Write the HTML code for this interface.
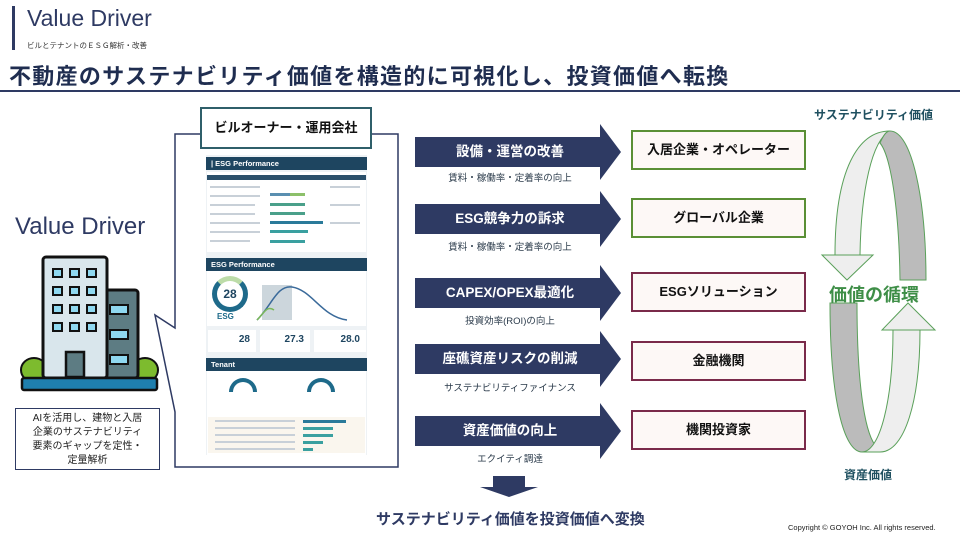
<!DOCTYPE html>
<html><head><meta charset="utf-8">
<style>
*{margin:0;padding:0;box-sizing:border-box}
body{width:960px;height:540px;position:relative;background:#fff;font-family:"Liberation Sans","Noto Sans CJK JP",sans-serif;overflow:hidden}
.a{position:absolute}
.arrow{position:absolute;left:415px;width:205px;height:56px}
.arrow .body{position:absolute;left:0;top:13px;width:186px;height:30px;background:#2e3a63;color:#fff;font-weight:bold;font-size:13.5px;text-align:center;line-height:30px;padding-left:4px}
.arrow .head{position:absolute;left:185px;top:0;width:0;height:0;border-top:28px solid transparent;border-bottom:28px solid transparent;border-left:21px solid #2e3a63}
.sub{position:absolute;left:415px;width:190px;text-align:center;font-size:9.5px;color:#2a3a4a}
.box{position:absolute;left:631px;width:175px;height:40px;background:#fdf8f6;border:2px solid #5a8f35;text-align:center;line-height:36px;font-weight:bold;font-size:13px;color:#111}
.box.m{border-color:#7a2a4a}
.hdr{position:absolute;left:206px;width:161px;height:13px;background:#1e4560;color:#fff;font-size:7.5px;font-weight:bold;line-height:13px;padding-left:5px}
.bar{position:absolute;height:3px}
.gl{position:absolute;height:2px;background:#c8d0d8}
</style></head><body>
<div class="a" style="left:12px;top:6px;width:3px;height:44px;background:#2e3a63"></div>
<div class="a" style="left:27px;top:5px;font-size:23px;color:#2e3a63">Value Driver</div>
<div class="a" style="left:27px;top:40px;font-size:7.5px;color:#333">ビルとテナントのＥＳＧ解析・改善</div>
<div class="a" style="left:9px;top:59px;font-size:22px;font-weight:bold;color:#1f2d50;letter-spacing:1.3px;white-space:nowrap">不動産のサステナビリティ価値を構造的に可視化し、投資価値へ転換</div>
<div class="a" style="left:0;top:90px;width:960px;height:2px;background:#2e3a63"></div>

<svg class="a" style="left:0;top:0" width="960" height="540">
<polyline points="200,134 175,134 175,328 155,315 175,412 175,467 398,467 398,134 372,134" fill="none" stroke="#2e3a63" stroke-width="1.5"/>
<path d="M835,255 C835,170 858,131 890,131 C872,140 861,190 860,255 Z" fill="#eeeeee" stroke="#5aa05a" stroke-width="1"/>
<polygon points="822,255 873,255 847,280" fill="#eeeeee" stroke="#5aa05a" stroke-width="1"/>
<path d="M890,131 C912,131 926,200 926,280 L900,280 C899,205 890,155 880,143 C883,136 886,131 890,131 Z" fill="#bbbbbb" stroke="#5aa05a" stroke-width="1"/>
<path d="M830,303 L857,303 C857,380 864,430 875,445 C870,452 866,452 862,452 C844,452 830,400 830,303 Z" fill="#bbbbbb" stroke="#5aa05a" stroke-width="1"/>
<path d="M862,452 C880,452 893,400 893,330 L920,330 C920,400 905,452 880,452 Z" fill="#eeeeee" stroke="#5aa05a" stroke-width="1"/>
<polygon points="882,330 935,330 908,303" fill="#eeeeee" stroke="#5aa05a" stroke-width="1"/>
<ellipse cx="34" cy="370" rx="13" ry="12" fill="#7dbb2e" stroke="#111" stroke-width="2"/>
<ellipse cx="145" cy="370" rx="13" ry="12" fill="#7dbb2e" stroke="#111" stroke-width="2"/>
<rect x="105" y="290" width="33" height="88" rx="3" fill="#5d7c83" stroke="#111" stroke-width="3"/>
<rect x="110" y="305" width="18" height="9" fill="#8fd8f0" stroke="#111" stroke-width="2"/>
<rect x="110" y="330" width="18" height="9" fill="#8fd8f0" stroke="#111" stroke-width="2"/>
<rect x="110" y="355" width="18" height="9" fill="#8fd8f0" stroke="#111" stroke-width="2"/>
<rect x="43" y="257" width="64" height="121" rx="3" fill="#d9e6ec" stroke="#111" stroke-width="3"/>
<g fill="#8fd8f0" stroke="#111" stroke-width="2">
<rect x="53" y="269" width="9" height="8"/><rect x="70" y="269" width="9" height="8"/><rect x="87" y="269" width="9" height="8"/>
<rect x="53" y="287" width="9" height="8"/><rect x="70" y="287" width="9" height="8"/><rect x="87" y="287" width="9" height="8"/>
<rect x="53" y="305" width="9" height="8"/><rect x="70" y="305" width="9" height="8"/><rect x="87" y="305" width="9" height="8"/>
<rect x="53" y="323" width="9" height="8"/><rect x="70" y="323" width="9" height="8"/><rect x="87" y="323" width="9" height="8"/>
</g>
<rect x="66" y="352" width="18" height="25" fill="#5d7c83" stroke="#111" stroke-width="2.5"/>
<rect x="22" y="378" width="135" height="12" rx="2" fill="#1f7fae" stroke="#111" stroke-width="2.5"/>
<polygon points="493,476 525,476 525,487 538,487 509,497 480,487 493,487" fill="#2e3a63"/>
</svg>

<div class="a" style="left:200px;top:107px;width:172px;height:42px;border:2px solid #2f5f6a;background:#fff;text-align:center;line-height:38px;font-weight:bold;font-size:13px;color:#111">ビルオーナー・運用会社</div>

<div class="a" style="left:206px;top:155px;width:161px;height:300px;background:#eef2f5"></div>
<div class="hdr" style="top:157px">| ESG Performance</div>
<div class="a" style="left:207px;top:172px;width:159px;height:80px;background:#fff"></div>
<div class="a" style="left:207px;top:175px;width:159px;height:5px;background:#2a4f6a"></div>
<div class="gl" style="left:210px;top:186px;width:50px"></div>
<div class="gl" style="left:210px;top:195px;width:50px"></div>
<div class="gl" style="left:210px;top:204px;width:45px"></div>
<div class="gl" style="left:210px;top:213px;width:45px"></div>
<div class="gl" style="left:210px;top:222px;width:50px"></div>
<div class="gl" style="left:210px;top:231px;width:50px"></div>
<div class="gl" style="left:210px;top:240px;width:40px"></div>
<div class="gl" style="left:330px;top:186px;width:30px"></div>
<div class="gl" style="left:330px;top:204px;width:30px"></div>
<div class="gl" style="left:330px;top:222px;width:30px"></div>
<div class="bar" style="left:270px;top:193px;width:20px;background:#5a8fb0"></div>
<div class="bar" style="left:290px;top:193px;width:15px;background:#8cc06a"></div>
<div class="bar" style="left:270px;top:203px;width:35px;background:#4aa08a"></div>
<div class="bar" style="left:270px;top:212px;width:35px;background:#4aa08a"></div>
<div class="bar" style="left:270px;top:221px;width:53px;background:#2a7a9a"></div>
<div class="bar" style="left:270px;top:230px;width:38px;background:#3aa0a0"></div>
<div class="bar" style="left:270px;top:240px;width:35px;background:#3aa0a0"></div>
<div class="hdr" style="top:258px">ESG Performance</div>
<div class="a" style="left:207px;top:271px;width:159px;height:55px;background:#fff"></div>
<div class="a" style="left:212px;top:276px;width:36px;height:36px;border-radius:50%;border:5px solid #1e6a8a;border-top-color:#bcdca8;text-align:center;line-height:26px;font-weight:bold;font-size:12px;color:#1e4560">28</div>
<div class="a" style="left:217px;top:312px;font-size:8px;font-weight:bold;color:#1e6a8a">ESG</div>
<svg class="a" style="left:252px;top:275px" width="112" height="50"><rect x="10" y="10" width="30" height="35" fill="#ccd6dc"/><path d="M5,45 C20,30 25,10 40,12 C60,15 70,42 95,45" fill="none" stroke="#3a6a9a" stroke-width="1.5"/><path d="M5,45 C12,38 15,30 22,35" fill="none" stroke="#7ab85a" stroke-width="1.5"/></svg>
<div class="a" style="left:208px;top:330px;width:48px;height:22px;background:#fff;font-size:10px;font-weight:bold;color:#1e4560;text-align:right;padding:4px 6px">28</div>
<div class="a" style="left:260px;top:330px;width:50px;height:22px;background:#fff;font-size:10px;font-weight:bold;color:#1e4560;text-align:right;padding:4px 6px">27.3</div>
<div class="a" style="left:314px;top:330px;width:52px;height:22px;background:#fff;font-size:10px;font-weight:bold;color:#1e4560;text-align:right;padding:4px 6px">28.0</div>
<div class="hdr" style="top:358px">Tenant</div>
<div class="a" style="left:207px;top:371px;width:159px;height:84px;background:#fff"></div>
<div class="a" style="left:229px;top:378px;width:28px;height:14px;border-radius:14px 14px 0 0;border:4px solid #1e6a8a;border-bottom:none"></div>
<div class="a" style="left:307px;top:378px;width:28px;height:14px;border-radius:14px 14px 0 0;border:4px solid #1e6a8a;border-bottom:none"></div>
<div class="a" style="left:208px;top:417px;width:157px;height:36px;background:#faf6ee"></div>
<div class="gl" style="left:215px;top:420px;width:80px"></div>
<div class="gl" style="left:215px;top:427px;width:80px"></div>
<div class="gl" style="left:215px;top:434px;width:80px"></div>
<div class="gl" style="left:215px;top:441px;width:80px"></div>
<div class="gl" style="left:215px;top:448px;width:80px"></div>
<div class="bar" style="left:303px;top:420px;width:43px;background:#2a7a9a"></div>
<div class="bar" style="left:303px;top:427px;width:30px;background:#3aa0a0"></div>
<div class="bar" style="left:303px;top:434px;width:30px;background:#3aa0a0"></div>
<div class="bar" style="left:303px;top:441px;width:20px;background:#3aa0a0"></div>
<div class="bar" style="left:303px;top:448px;width:10px;background:#3aa0a0"></div>

<div class="a" style="left:15px;top:213px;font-size:24px;color:#2e3a63">Value Driver</div>
<div class="a" style="left:15px;top:408px;width:145px;height:62px;border:1.5px solid #2e3a63;background:#fff;text-align:center;font-size:10px;line-height:14px;padding-top:3px;color:#222">AIを活用し、建物と入居<br>企業のサステナビリティ<br>要素のギャップを定性・<br>定量解析</div>

<div class="arrow" style="top:124px"><div class="body">設備・運営の改善</div><div class="head"></div></div>
<div class="sub" style="top:170px">賃料・稼働率・定着率の向上</div>
<div class="box" style="top:130px">入居企業・オペレーター</div>
<div class="arrow" style="top:191px"><div class="body">ESG競争力の訴求</div><div class="head"></div></div>
<div class="sub" style="top:239px">賃料・稼働率・定着率の向上</div>
<div class="box" style="top:198px">グローバル企業</div>
<div class="arrow" style="top:265px"><div class="body">CAPEX/OPEX最適化</div><div class="head"></div></div>
<div class="sub" style="top:313px">投資効率(ROI)の向上</div>
<div class="box m" style="top:272px">ESGソリューション</div>
<div class="arrow" style="top:331px"><div class="body">座礁資産リスクの削減</div><div class="head"></div></div>
<div class="sub" style="top:380px">サステナビリティファイナンス</div>
<div class="box m" style="top:341px">金融機関</div>
<div class="arrow" style="top:403px"><div class="body">資産価値の向上</div><div class="head"></div></div>
<div class="sub" style="top:451px">エクイティ調達</div>
<div class="box m" style="top:410px">機関投資家</div>

<div class="a" style="left:376px;top:508px;font-size:15px;font-weight:bold;color:#2e3a63">サステナビリティ価値を投資価値へ変換</div>
<div class="a" style="left:788px;top:523px;font-size:7.5px;color:#222">Copyright © GOYOH Inc. All rights reserved.</div>

<div class="a" style="left:814px;top:106px;font-size:12px;font-weight:bold;color:#1f5060">サステナビリティ価値</div>
<div class="a" style="left:829px;top:281px;font-size:18px;font-weight:bold;color:#3e8e47">価値の循環</div>
<div class="a" style="left:844px;top:466px;font-size:12px;font-weight:bold;color:#1f5060">資産価値</div>
</body></html>
